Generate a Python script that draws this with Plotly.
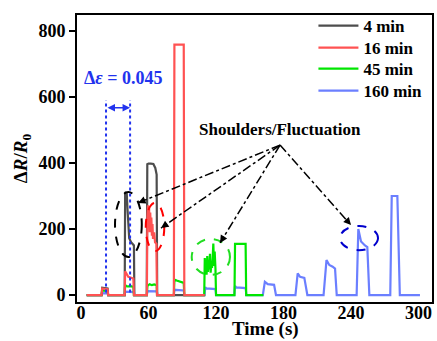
import plotly.graph_objects as go
import numpy as np

# ---------------- data ----------------
t_4 = [5, 18.3, 18.8, 21, 23.6, 24.1, 38.8, 39.2, 40.6, 41.3, 42.0, 42.8, 44.5, 46.5, 47.0, 47.4,
       58.4, 58.9, 60, 62, 64.3, 66.0, 67.2, 67.7, 110]
y_4 = [0, 0, 22, 22, 20, 0, 0, 312, 308, 260, 190, 172, 160, 152, 150, 0,
       0, 396, 398, 398, 397, 385, 365, 0, 0]

t_16 = [5, 18.3, 18.8, 23.6, 24.1, 38.8, 39.2, 40.5, 42, 44, 46.5, 47.0,
        58.5, 59.0, 59.5, 60.0, 60.5, 61.0, 61.5, 62.0, 62.5, 63.0, 63.5, 64.0, 65.0, 65.8, 67.0, 67.5,
        82.5, 83.0, 91.3, 91.8, 110]
y_16 = [0, 0, 20, 18, 0, 0, 72, 62, 55, 53, 50, 0,
        0, 240, 272, 215, 262, 190, 250, 200, 235, 180, 215, 170, 190, 160, 155, 0,
        0, 758, 758, 0, 0]

t_45 = [5, 18.3, 18.8, 23.6, 24.1, 38.8, 39.2, 41, 44, 46.5, 47,
        58.5, 59, 61, 63, 65, 67.2, 67.6, 82.5, 83, 85, 88, 91.3, 91.8,
        109.5, 110.0, 110.6, 111.1, 111.6, 112.2, 112.8, 113.4, 114.0, 114.6, 115.2, 115.8, 116.4,
        117.0, 117.6, 118.2, 118.8, 119.5, 120.0, 136.4, 136.9, 146.3, 146.8, 162]
y_45 = [0, 0, 14, 12, 0, 0, 30, 26, 27, 25, 0,
        0, 28, 33, 30, 32, 30, 0, 0, 47, 44, 40, 37, 0,
        0, 112, 72, 98, 62, 118, 70, 102, 78, 125, 68, 96, 82,
        112, 156, 88, 132, 80, 0, 0, 155, 155, 0, 0]

t_160 = [5, 18.3, 18.8, 23.6, 24.1, 38.8, 39.2, 47, 47.4, 58.5, 59, 67.4, 67.8,
         82.5, 83, 91.3, 91.8, 109.8, 110.4, 111.5, 119.5, 120.1,
         136.2, 136.9, 138, 146.3, 147, 161.6, 163.4, 166, 171.6, 173.3,
         190.6, 192.6, 194.7, 198.5, 201.2, 215.6, 218.2, 220.7, 223.7, 225.8, 227.3,
         245.0, 246.5, 248.9, 252.4, 254.5, 256.3, 274.9, 276.2, 281.2, 283.4, 301.3]
y_160 = [0, 0, 6, 5, 0, 0, 10, 9, 0, 0, 12, 11, 0,
         0, 16, 14, 0, 0, 24, 20, 18, 0,
         0, 28, 23, 21, 0, 0, 40, 33, 31, 0,
         0, 66, 55, 52, 0, 0, 106, 91, 86, 80, 0,
         0, 200, 162, 150, 145, 0, 0, 300, 300, 0, 0]

series_names = ["4 min", "16 min", "45 min", "160 min"]
series_colors = ["#4d4d4d", "#ff5252", "#00e600", "#6b7fff"]

x_ticks = [0, 60, 120, 180, 240, 300]
y_ticks = [0, 200, 400, 600, 800]

# annotation anchors (data coordinates)
strain_lines = [22.2, 43.6]
ellipses = [  # x0, x1, y0, y1, colour
    (30.2, 54.0, 115, 312, "#000000"),
    (57.5, 74.0, 133, 279, "#ff0000"),
    (98.4, 132.4, 61, 170, "#22dd22"),
    (230.2, 264.0, 136, 209, "#0000cc"),
]
apex = (176.9, 454)
tips = [(50.7, 279), (71.1, 203), (123.6, 158), (240.0, 212)]

XR = [-3.6, 312]
YR = [-21, 848]
W, H = 437, 341
ML, MR, MT, MB = 77, 5, 15, 39
SERIF = "Liberation Serif, DejaVu Serif, serif"
legend_rows_px = [26, 48, 69, 91]

fig = go.Figure()
order = [3, 2, 0, 1]  # drawing order: blue, green, black, red
data = [(t_4, y_4), (t_16, y_16), (t_45, y_45), (t_160, y_160)]
legend_ids = ["legend", "legend2", "legend3", "legend4"]
for i in order:
    t, y = data[i]
    fig.add_trace(go.Scatter(x=t, y=y, mode="lines", name="<b>%s</b>" % series_names[i],
                             line=dict(color=series_colors[i], width=2.2),
                             legend=legend_ids[i]))

shapes = []
for xv in strain_lines:
    shapes.append(dict(type="line", xref="x", yref="y", x0=xv, x1=xv, y0=8, y1=590,
                       line=dict(color="#2233ee", width=2, dash="dot")))
for x0, x1, y0, y1, c in ellipses:
    shapes.append(dict(type="circle", xref="x", yref="y", x0=x0, x1=x1, y0=y0, y1=y1,
                       line=dict(color=c, width=2, dash="dash")))
for tx, ty in tips:
    shapes.append(dict(type="line", xref="x", yref="y", x0=apex[0], y0=apex[1], x1=tx, y1=ty,
                       line=dict(color="black", width=1.5, dash="dashdot")))

sx = (W - ML - MR) / (XR[1] - XR[0])
sy = (H - MT - MB) / (YR[1] - YR[0])
annotations = []
for tx, ty in tips:
    dx = (apex[0] - tx) * sx
    dy = -(apex[1] - ty) * sy
    n = np.hypot(dx, dy)
    annotations.append(dict(x=tx, y=ty, xref="x", yref="y", text="", showarrow=True,
                            ax=dx / n * 9, ay=dy / n * 9, arrowhead=2, arrowsize=1,
                            arrowwidth=1.5, arrowcolor="black", standoff=0))
annotations.append(dict(x=strain_lines[1], y=567, ax=strain_lines[0], ay=567, xref="x", yref="y",
                        axref="x", ayref="y", text="", showarrow=True, arrowside="end+start",
                        arrowhead=2, arrowsize=1, arrowwidth=1.5, arrowcolor="#2233ee"))
annotations.append(dict(x=36.9, y=657, xref="x", yref="y", showarrow=False,
                        text="<b>Δ<i>ε</i> = 0.045</b>",
                        font=dict(family=SERIF, size=18, color="#2233ee")))
annotations.append(dict(x=176.9, y=500, xref="x", yref="y", showarrow=False,
                        text="<b>Shoulders/Fluctuation</b>",
                        font=dict(family=SERIF, size=17, color="black")))
# x-axis title
annotations.append(dict(x=0.53, y=1 - (341 - MT) / (H - MT - MB), xref="paper", yref="paper",
                        showarrow=False, xanchor="center", yanchor="bottom", borderpad=0,
                        text="<b>Time (s)</b>",
                        font=dict(family=SERIF, size=19, color="black")))

legend_layout = {}
for k, lid in enumerate(legend_ids):
    legend_layout[lid] = dict(x=0.666, y=1 - (legend_rows_px[k] - MT) / (H - MT - MB),
                              xanchor="left", yanchor="middle", bgcolor="rgba(0,0,0,0)",
                              font=dict(family=SERIF, size=17), itemwidth=40)

fig.update_layout(
    width=W, height=H,
    margin=dict(l=ML, r=MR, t=MT, b=MB, autoexpand=False),
    paper_bgcolor="white", plot_bgcolor="white",
    font=dict(family=SERIF, size=18, color="black"),
    shapes=shapes, annotations=annotations,
    showlegend=True,
    **legend_layout,
)
fig.update_xaxes(range=XR, tickvals=x_ticks, ticktext=["<b>%d</b>" % v for v in x_ticks],
                 showgrid=False, zeroline=False, automargin=False,
                 showline=True, linecolor="black", linewidth=2, mirror=True, ticks="", ticklen=0,
                 ticklabelstandoff=-7,
                 tickfont=dict(family=SERIF, size=18))
fig.update_yaxes(range=YR, tickvals=y_ticks, ticktext=["<b>%d</b>" % v for v in y_ticks],
                 showgrid=False, zeroline=False, automargin=False,
                 showline=True, linecolor="black", linewidth=2, mirror=True,
                 ticks="outside", ticklen=6, tickwidth=2, tickcolor="black",
                 tickfont=dict(family=SERIF, size=18),
                 title=dict(text="<b>Δ<i>R</i>/<i>R</i><sub>0</sub></b>",
                            font=dict(family=SERIF, size=19), standoff=6))

fig.write_html("out.html")
